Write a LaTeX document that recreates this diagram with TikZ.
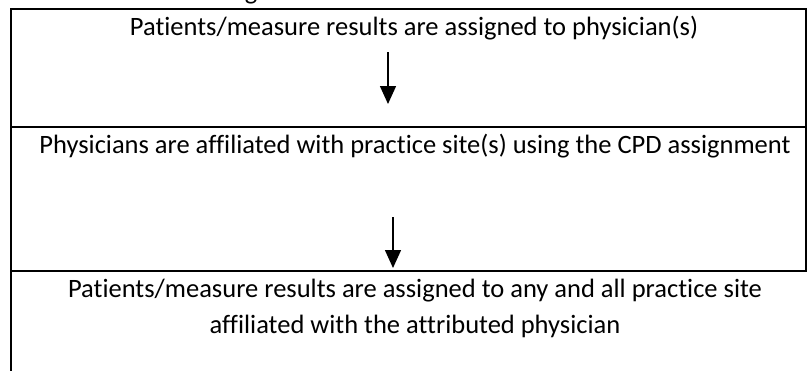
\documentclass[tikz,border=0pt]{standalone}
\usepackage{fontspec}
\setmainfont{Carlito}[Ligatures=NoCommon]
\usetikzlibrary{arrows.meta}
\tikzset{
  rule/.style={line width=2pt, line cap=rect},
  label/.style={anchor=base, inner sep=0pt, font=\fontsize{26.5}{36}\selectfont, align=center},
  flow/.style={line width=1.4pt, -{Triangle[width=16pt,length=18pt]}}
}
\begin{document}
\begin{tikzpicture}[x=1pt, y=-1pt]
  \useasboundingbox (0,0) rectangle (807,370);
  \clip (0,0) rectangle (807,370);
  % descender of a line set above the frame
  \node[label] (above) at (251,-1) {g};
  % frame and dividers
  \draw[rule] (11,370) -- (11,9) -- (806,9) -- (806,271);
  \draw[rule] (11,127) -- (806,127);
  \draw[rule] (11,271) -- (806,271);
  % step texts
  \node[label] (s1) at (414,35) {Patients/measure results are assigned to physician(s)};
  \node[label] (s2) at (415,153) {Physicians are affiliated with practice site(s) using the CPD assignment};
  \node[label] (s3) at (415,297) {Patients/measure results are assigned to any and all practice site};
  \node[label] (s3b) at (415,333) {affiliated with the attributed physician};
  % arrows between steps
  \coordinate (a1s) at (388,52);
  \coordinate (a1e) at (388,104);
  \coordinate (a2s) at (393,217);
  \coordinate (a2e) at (393,268);
  \draw[flow] (a1s) -- (a1e);
  \draw[flow] (a2s) -- (a2e);
\end{tikzpicture}
\end{document}
